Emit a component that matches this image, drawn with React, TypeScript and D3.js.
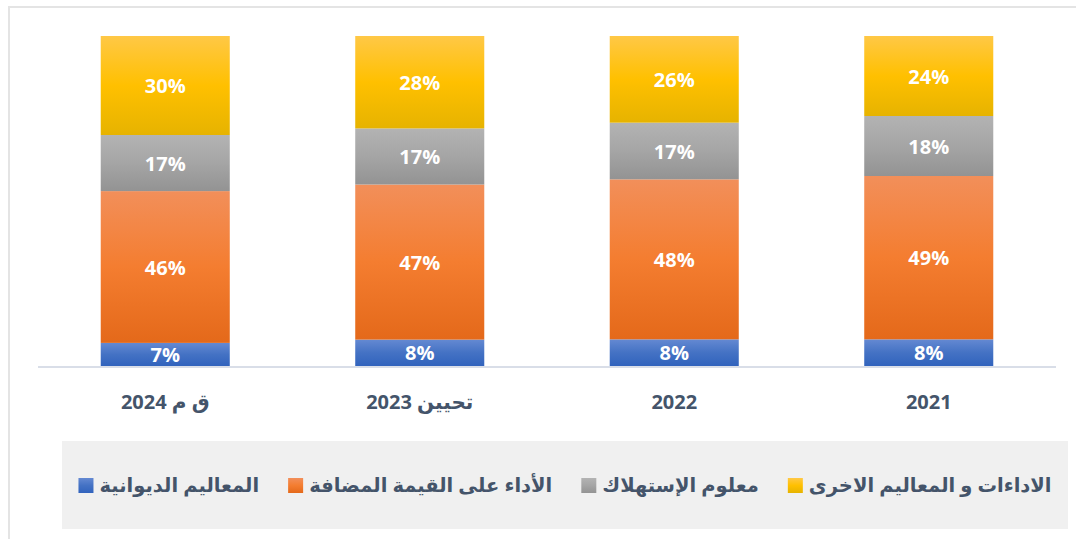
import React, { useEffect, useRef } from "react";
import * as d3 from "d3";

const categories = ["ق م 2024", "تحيين 2023", "2022", "2021"];
const seriesNames = [
  "المعاليم الديوانية",
  "الأداء على القيمة المضافة",
  "معلوم الإستهلاك",
  "الاداءات و المعاليم الاخرى",
];
const customsDuties = [7, 8, 8, 8];
const vatValues = [46, 47, 48, 49];
const consumptionDuty = [17, 17, 17, 18];
const otherTaxes = [30, 28, 26, 24];

const seriesValues = [customsDuties, vatValues, consumptionDuty, otherTaxes];
const gradientStops = [
  ["#6489d2", "#4472c4", "#3163bd"],
  ["#f28f5a", "#f47d30", "#e4691a"],
  ["#b3b3b3", "#a5a5a5", "#939393"],
  ["#ffc846", "#ffc000", "#e6b300"],
];

const W = 1076;
const H = 539;
const TEXT = "#44546a";
const FONT = "'Open Sans', 'DejaVu Sans', sans-serif";

export default function App() {
  const ref = useRef<SVGSVGElement>(null);

  useEffect(() => {
    const svg = d3.select(ref.current);
    svg.selectAll("*").remove();

    const defs = svg.append("defs");
    gradientStops.forEach((stops, i) => {
      const g = defs
        .append("linearGradient")
        .attr("id", `grad${i}`)
        .attr("x1", 0)
        .attr("y1", 0)
        .attr("x2", 0)
        .attr("y2", 1);
      g.append("stop").attr("offset", "0%").attr("stop-color", stops[0]);
      g.append("stop").attr("offset", "50%").attr("stop-color", stops[1]);
      g.append("stop").attr("offset", "100%").attr("stop-color", stops[2]);
    });

    svg.append("rect").attr("width", W).attr("height", H).attr("fill", "#fff");
    svg
      .append("rect")
      .attr("x", 9)
      .attr("y", 7)
      .attr("width", W + 100)
      .attr("height", H + 100)
      .attr("fill", "none")
      .attr("stroke", "#e4e4e4")
      .attr("stroke-width", 2);

    const table = categories.map((c, i) => {
      const row: any = { cat: c };
      seriesValues.forEach((arr, s) => (row["s" + s] = arr[i]));
      return row;
    });
    const keys = seriesValues.map((_, s) => "s" + s);
    const stacked = d3.stack().keys(keys).offset(d3.stackOffsetExpand)(table);

    const x = d3
      .scaleBand()
      .domain(categories)
      .range([38, 1056])
      .paddingInner(0.493)
      .paddingOuter(0.2465);
    const y = d3.scaleLinear().domain([0, 1]).range([366, 36]);

    stacked.forEach((layer, s) => {
      const g = svg.append("g");
      layer.forEach((d: any, i) => {
        const y0 = y(d[0]);
        const y1 = y(d[1]);
        g.append("rect")
          .attr("x", x(categories[i])!)
          .attr("width", x.bandwidth())
          .attr("y", y1)
          .attr("height", y0 - y1)
          .attr("fill", `url(#grad${s})`);
        g.append("text")
          .attr("x", x(categories[i])! + x.bandwidth() / 2)
          .attr("y", (y0 + y1) / 2)
          .attr("dy", "0.38em")
          .attr("text-anchor", "middle")
          .attr("fill", "#fff")
          .attr("font-family", FONT)
          .attr("font-weight", "bold")
          .attr("font-size", 20)
          .text(seriesValues[s][i] + "%");
      });
    });

    svg
      .append("line")
      .attr("x1", 38)
      .attr("x2", 1056)
      .attr("y1", 367)
      .attr("y2", 367)
      .attr("stroke", "#d9dee8")
      .attr("stroke-width", 2);

    categories.forEach((c) => {
      svg
        .append("text")
        .attr("x", x(c)! + x.bandwidth() / 2)
        .attr("y", 409)
        .attr("text-anchor", "middle")
        .attr("fill", TEXT)
        .attr("font-family", FONT)
        .attr("font-weight", "bold")
        .attr("font-size", 20)
        .text(c);
    });

    // legend
    svg
      .append("rect")
      .attr("x", 62)
      .attr("y", 441)
      .attr("width", 1006)
      .attr("height", 88)
      .attr("fill", "#f0f0f0");

    const lg = svg.append("g");
    const order = [3, 2, 1, 0];
    const sq = 15;
    const gapText = 6;
    const gapItem = 29;
    const items = order.map((s) => {
      const t = lg
        .append("text")
        .attr("y", 485)
        .attr("dy", "0.35em")
        .attr("text-anchor", "end")
        .attr("fill", TEXT)
        .attr("font-family", FONT)
        .attr("font-weight", "bold")
        .attr("font-size", 19.5)
        .text(seriesNames[s]);
      const w = (t.node() as SVGTextElement).getComputedTextLength();
      const r = lg
        .append("rect")
        .attr("y", 478)
        .attr("width", sq)
        .attr("height", sq)
        .attr("fill", `url(#grad${s})`);
      return { t, r, w };
    });
    const total =
      items.reduce((a, it) => a + it.w + gapText + sq, 0) + gapItem * (items.length - 1);
    let right = 565 + total / 2;
    items.forEach((it) => {
      it.t.attr("x", right);
      it.r.attr("x", right - it.w - gapText - sq);
      right = right - it.w - gapText - sq - gapItem;
    });
  }, []);

  return (
    <div style={{ position: "absolute", left: 0, top: 0 }}>
      <svg ref={ref} width={W} height={H} style={{ display: "block" }} />
    </div>
  );
}
